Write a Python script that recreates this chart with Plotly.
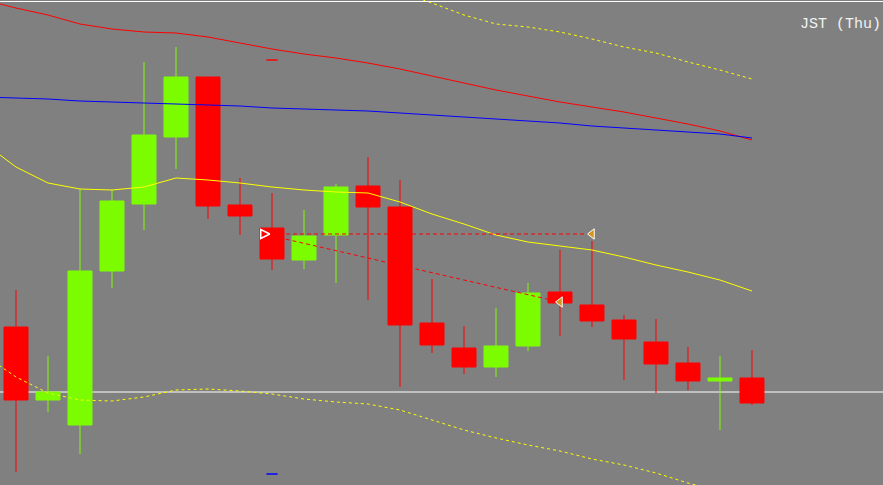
import plotly.graph_objects as go

# candles (bar index 0..23), prices in chart units
bars = list(range(24))
open_ = [158, 85, 60, 214, 281, 348, 408, 280, 257, 225, 250, 299, 278, 162, 137, 118, 139, 193, 180, 165, 143, 122, 104, 107]
high = [195, 129, 296, 295, 423, 438, 408, 307, 292, 275, 301, 328, 305, 206, 159, 177, 202, 235, 244, 170, 166, 138, 129, 135]
low = [13, 73, 31, 197, 255, 316, 266, 250, 215, 216, 202, 185, 98, 132, 111, 108, 134, 149, 158, 105, 92, 95, 55, 80]
close = [85, 93, 214, 284, 350, 408, 279, 269, 226, 249, 298, 278, 160, 140, 118, 139, 192, 182, 164, 146, 121, 104, 107, 82]

# indicator lines start one bar left of the screen
ma_bars = list(range(-1, 24))
ma_red = [485, 477, 470, 461, 456, 453, 452, 448, 442, 436, 431, 427, 422, 416, 409, 402, 395, 389, 383, 378, 373, 367, 361, 354, 345]
ma_blue = [388, 387, 386, 384, 383, 382, 381, 380, 379, 377, 376, 375, 374, 372, 370, 368, 366, 364, 362, 359, 357, 355, 353, 351, 347]
ma_yellow = [342, 318, 302, 296, 295, 298, 307, 305, 302, 298, 295, 293, 292, 283, 271, 261, 250, 243, 239, 235, 228, 220, 213, 205, 194]
band_lower = [130, 108, 92, 85, 84, 88, 95, 96, 94, 91, 86, 83, 81, 75, 65, 55, 47, 40, 34, 26, 20, 12, 2, -7, -15]
band_upper_bars = list(range(12, 24))
band_upper = [493, 482, 470, 461, 458, 453, 446, 438, 432, 423, 415, 406]

# trade marks
trade_open_bar = 8
trade_open_price = 251
trade_close_bar = 18
trade_close_price = 251
trade2_open_price = 249
trade2_close_bar = 17
trade2_close_price = 183
level_price = 93
day_high = 425
day_low = 11
day_bar = 8

BG = "#808080"
UP = "#7CFC00"
DOWN = "#FF0000"


def line(x, y, color, dash="solid"):
    return go.Scatter(x=x, y=y, mode="lines", hoverinfo="skip",
                      line=dict(color=color, width=1, dash=dash))


fig = go.Figure()

fig.add_trace(go.Candlestick(
    x=bars, open=open_, high=high, low=low, close=close,
    increasing=dict(line=dict(color=UP, width=1), fillcolor=UP),
    decreasing=dict(line=dict(color=DOWN, width=1), fillcolor=DOWN),
    whiskerwidth=0, hoverinfo="skip"))

fig.add_trace(line(ma_bars, ma_red, "#FF0000"))
fig.add_trace(line(ma_bars, ma_blue, "#0000FF"))
fig.add_trace(line(ma_bars, ma_yellow, "#FFFF00"))
fig.add_trace(line(ma_bars, band_lower, "#FFFF00", "3px,3px"))
fig.add_trace(line(band_upper_bars, band_upper, "#FFFF00", "3px,3px"))

# trade connection lines
fig.add_trace(line([trade_open_bar, trade_close_bar], [trade_open_price, trade_close_price], "#FF0000", "4px,3px"))
fig.add_trace(line([trade_open_bar, trade2_close_bar], [trade2_open_price, trade2_close_price], "#FF0000", "4px,3px"))

fig.add_trace(go.Scatter(
    x=[trade_open_bar - 0.07], y=[trade_open_price], mode="markers", hoverinfo="skip",
    marker=dict(symbol="arrow-right-open", size=9, color="white", line=dict(color="white", width=1.5))))
fig.add_trace(go.Scatter(
    x=[trade_close_bar, trade2_close_bar], y=[trade_close_price, trade2_close_price],
    mode="markers", hoverinfo="skip",
    marker=dict(symbol="triangle-left", size=9, color="#D2961E", line=dict(color="white", width=1))))

# small high / low ticks
fig.add_trace(go.Scatter(
    x=[day_bar, day_bar], y=[day_high, day_low], mode="markers", hoverinfo="skip",
    marker=dict(symbol="line-ew", size=8, line=dict(color=["#FF0000", "#0000FF"], width=1.5))))

fig.add_hline(y=level_price, line=dict(color="white", width=1), layer="below")
fig.add_shape(type="line", xref="paper", yref="paper", x0=0, x1=1, y0=1 - 1.5 / 485, y1=1 - 1.5 / 485,
              line=dict(color="white", width=1))

fig.add_annotation(text="JST (Thu)", xref="paper", yref="paper", x=798 / 883, y=1 - 24 / 485,
                   xanchor="left", yanchor="middle", showarrow=False,
                   font=dict(family="Liberation Mono", size=15, color="#F2F2F2"))

fig.update_layout(
    width=883, height=485, margin=dict(l=0, r=0, t=0, b=0),
    paper_bgcolor=BG, plot_bgcolor=BG, showlegend=False,
    boxgap=0.25, boxgroupgap=0,
    xaxis=dict(range=[-0.5, 27.094], visible=False, rangeslider=dict(visible=False)),
    yaxis=dict(range=[0, 485], visible=False),
)

fig.write_html("out.html", config=dict(displayModeBar=False),
               post_script="document.body.style.margin='0';document.body.style.overflow='hidden';")
